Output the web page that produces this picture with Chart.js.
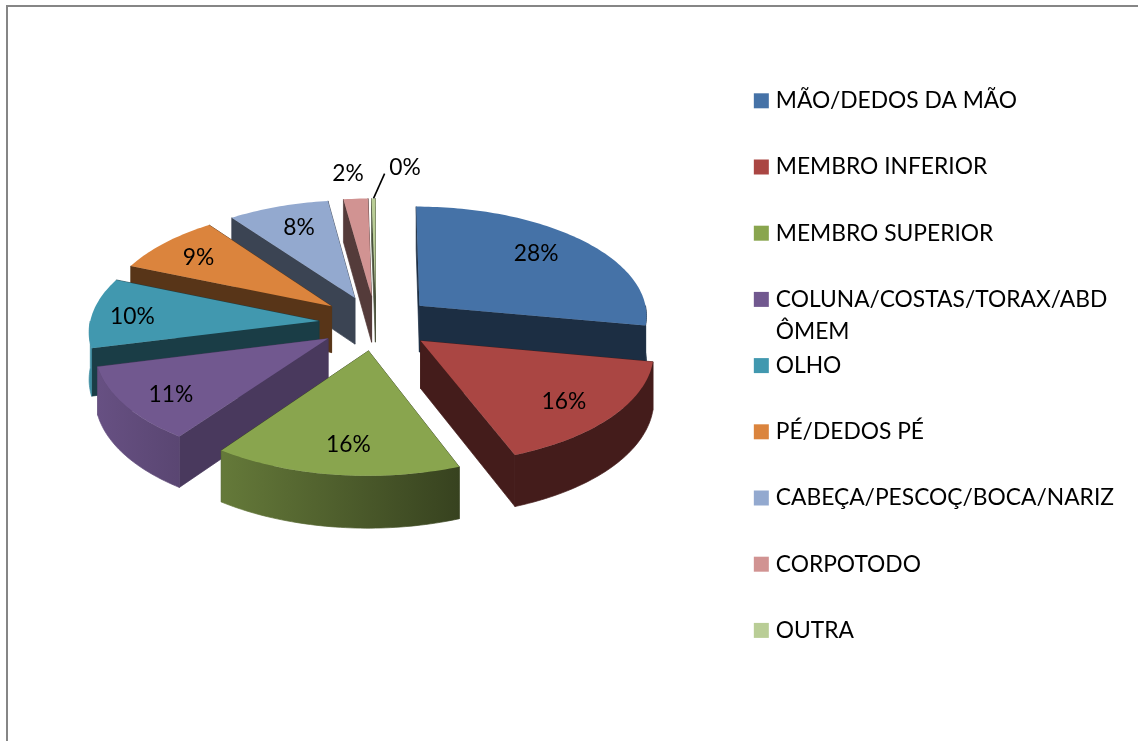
<!DOCTYPE html>
<html>
<head>
<meta charset="utf-8">
<style>
  html, body { margin: 0; background: #fff; }
  canvas { display: block; }
</style>
<script src="https://cdn.jsdelivr.net/npm/chart.js@4"></script>
</head>
<body>
<canvas id="myChart" width="1138" height="741"></canvas>
<script>
const categories = ["MÃO/DEDOS DA MÃO", "MEMBRO INFERIOR", "MEMBRO SUPERIOR", "COLUNA/COSTAS/TORAX/ABD\nÔMEM", "OLHO", "PÉ/DEDOS PÉ", "CABEÇA/PESCOÇ/BOCA/NARIZ", "CORPOTODO", "OUTRA"];
const values = [28.1, 16.3, 15.9, 11.2, 10.3, 8.7, 7.9, 1.9, 0.3];
const colors = ["#4572A7", "#AA4643", "#89A54E", "#71588F", "#4198AF", "#DB843D", "#93A9CF", "#D19392", "#B9CD96"];

const FONT = "Lato, sans-serif";
const FONT_SIZE = 22.8;

// fake 3D settings: tilt, perspective, wall height, explode distance
const view = { liftY: -50.5, tilt: 0.48, persp: 0.082, depth: 47, explode: 0.25 };
// where each value label sits: distance from the slice tip, turn from its middle in degrees
const labelSpots = [
  { at: 0.74, turn: -2.85 }, { at: 0.78, turn: 1.9 }, { at: 0.77, turn: -1.5 },
  { at: 0.80, turn: -2.3 }, { at: 0.82, turn: -1.75 }, { at: 0.78, turn: -0.8 },
  { at: 0.75, turn: 1.1 }, { at: 1.28, turn: -0.8 }, { at: 1.36, turn: 6.7 }
];
// straight walls are 0.4 of the top colour, except the lit purple one
const wallShade = { 3: 0.65 };

function shade(hex, k) {
  const n = parseInt(hex.slice(1), 16);
  const c = [n >> 16, (n >> 8) & 255, n & 255].map(v => Math.round(v * k));
  return `rgb(${c[0]},${c[1]},${c[2]})`;
}

const pie3d = {
  id: 'pie3d',
  beforeDraw(chart) {
    // page frame, only top and left
    const ctx = chart.ctx;
    ctx.save();
    ctx.strokeStyle = "#868686";
    ctx.lineWidth = 2;
    ctx.beginPath();
    ctx.moveTo(7, 741);
    ctx.lineTo(7, 6);
    ctx.lineTo(1138, 6);
    ctx.stroke();
    ctx.restore();
  },
  beforeDatasetsDraw(chart) {
    const ctx = chart.ctx;
    const arcs = chart.getDatasetMeta(0).data;
    const R = arcs[0].outerRadius;
    const cx = arcs[0].x;
    const cy = arcs[0].y + view.liftY;

    const project = (u, v, h) => {
      const w = 1 - view.persp * v;
      return [cx + R * u / w, cy + (R * view.tilt * v + view.depth * h) / w];
    };

    const slices = arcs.map((arc, i) => {
      const a0 = arc.startAngle + Math.PI / 2;
      const a1 = arc.endAngle + Math.PI / 2;
      const mid = (a0 + a1) / 2;
      return {
        i, a0, a1, mid,
        tu: view.explode * Math.sin(mid),
        tv: -view.explode * Math.cos(mid),
        color: colors[i]
      };
    });

    const rim = (s, a, h) => project(s.tu + Math.sin(a), s.tv - Math.cos(a), h);
    const tip = (s, h) => project(s.tu, s.tv, h);
    const fillPoly = (pts, fill, seal) => {
      ctx.beginPath();
      pts.forEach((p, k) => k ? ctx.lineTo(p[0], p[1]) : ctx.moveTo(p[0], p[1]));
      ctx.closePath();
      ctx.fillStyle = fill;
      ctx.fill();
      if (seal) {
        // hides the light seam between neighbouring walls
        ctx.strokeStyle = fill;
        ctx.lineWidth = 0.7;
        ctx.stroke();
      }
    };
    const arcPts = (s, a0, a1, h) => {
      const n = Math.max(2, Math.ceil((a1 - a0) / 0.02));
      const out = [];
      for (let k = 0; k <= n; k++) out.push(rim(s, a0 + (a1 - a0) * k / n, h));
      return out;
    };

    slices.slice().sort((a, b) => a.tv - b.tv).forEach(s => {
      const dark = shade(s.color, 0.4);
      const wall = shade(s.color, wallShade[s.i] || 0.4);

      // straight walls, the far one first
      const edges = [s.a0, s.a1].sort((p, q) => -Math.cos(p) + Math.cos(q));
      edges.forEach(a => {
        fillPoly([tip(s, 0), rim(s, a, 0), rim(s, a, 1), tip(s, 1)], wall, true);
      });

      // round wall, only the part turned to the viewer
      const from = Math.max(s.a0, Math.PI / 2);
      const to = Math.min(s.a1, Math.PI * 1.5);
      if (to > from) {
        const g = ctx.createLinearGradient(90, 0, 460, 0);
        g.addColorStop(0, shade(s.color, 0.92));
        g.addColorStop(1, dark);
        const top = arcPts(s, from, to, 0);
        const bottom = arcPts(s, from, to, 1).reverse();
        fillPoly(top.concat(bottom), g, true);
      }

      // top face
      fillPoly([tip(s, 0)].concat(arcPts(s, s.a0, s.a1, 0)), s.color);
    });

    // value labels
    const total = values.reduce((a, b) => a + b, 0);
    ctx.save();
    ctx.font = `${FONT_SIZE}px ${FONT}`;
    ctx.fillStyle = "#000";
    ctx.textAlign = "center";
    ctx.textBaseline = "middle";
    slices.forEach(s => {
      const spot = labelSpots[s.i];
      const a = s.mid + spot.turn * Math.PI / 180;
      const p = project(s.tu + spot.at * Math.sin(a), s.tv - spot.at * Math.cos(a), 0);
      ctx.fillText(Math.round(values[s.i] / total * 100) + "%", p[0], p[1]);
    });

    // leader line of the smallest slice
    const last = slices[8];
    const from = rim(last, last.mid, 0);
    const end = project(last.tu + 1.28 * Math.sin(0.035), last.tv - 1.28 * Math.cos(0.035), 0);
    ctx.strokeStyle = "#000";
    ctx.lineWidth = 1.6;
    ctx.beginPath();
    ctx.moveTo(from[0], from[1]);
    ctx.lineTo(end[0], end[1]);
    ctx.stroke();
    ctx.restore();
    return false;
  },
  afterDraw(chart) {
    // second line of the long legend entry
    const box = chart.legend.legendHitBoxes[3];
    const ctx = chart.ctx;
    ctx.save();
    ctx.font = `${FONT_SIZE}px ${FONT}`;
    ctx.fillStyle = "#000";
    ctx.textBaseline = "middle";
    ctx.fillText(categories[3].split("\n")[1], box.left + 6 + FONT_SIZE / 2, box.top + FONT_SIZE / 2 + 32);
    ctx.restore();
  }
};

new Chart(document.getElementById("myChart"), {
  type: "pie",
  data: {
    labels: categories,
    datasets: [{ data: values, backgroundColor: colors, borderWidth: 0, radius: 229 }]
  },
  plugins: [pie3d],
  options: {
    responsive: false,
    animation: false,
    events: [],
    layout: { padding: { left: 37, top: 46, right: 14, bottom: 40 } },
    plugins: {
      tooltip: { enabled: false },
      legend: {
        position: "right",
        align: "start",
        labels: {
          // small box with a thick border: gives a 15px square closer to the text
          boxWidth: 6,
          boxHeight: 6,
          padding: 43.4,
          color: "#000",
          font: { family: FONT, size: FONT_SIZE },
          generateLabels(chart) {
            return Chart.overrides.pie.plugins.legend.labels.generateLabels(chart).map(item => {
              item.text = item.text.split("\n")[0];
              item.strokeStyle = item.fillStyle;
              item.lineWidth = 9;
              return item;
            });
          }
        }
      }
    }
  }
});
</script>
</body>
</html>
